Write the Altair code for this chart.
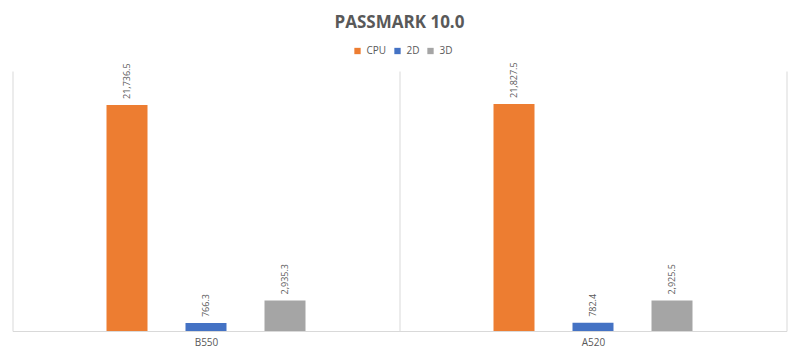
import altair as alt
import pandas as pd

categories = ["B550", "A520"]
series = ["CPU", "2D", "3D"]
cpu = [21736.5, 21827.5]
d2 = [766.3, 782.4]
d3 = [2935.3, 2925.5]
colors = ["#ED7D31", "#4472C4", "#A5A5A5"]

rows = []
for i, c in enumerate(categories):
    for s, vals in zip(series, [cpu, d2, d3]):
        rows.append({"board": c, "series": s, "value": vals[i], "label": f"{vals[i]:,.1f}"})
df = pd.DataFrame(rows)

# offset slots: empty gaps either side of the three series
slots = ["_a"] + series + ["_b"]

x = alt.X("board:N", sort=categories, title=None,
          scale=alt.Scale(paddingInner=0, paddingOuter=0),
          axis=alt.Axis(labelAngle=0, ticks=False, grid=True, tickBand="extent",
                        gridColor="#D9D9D9", gridWidth=1,
                        domainColor="#D9D9D9", labelColor="#595959",
                        labelFontSize=10, labelFont="Open Sans", labelPadding=6))
xo = alt.XOffset("series:N",
                 scale=alt.Scale(domain=slots, paddingInner=0.481, paddingOuter=0.19))
y = alt.Y("value:Q", scale=alt.Scale(domain=[0, 25000]), axis=None)

bars = alt.Chart(df).mark_bar().encode(
    x=x, xOffset=xo, y=y,
    color=alt.Color("series:N", sort=series,
                    scale=alt.Scale(domain=series, range=colors),
                    legend=alt.Legend(title=None, orient="none", direction="horizontal",
                                      legendX=340, legendY=-25, symbolType="square",
                                      symbolSize=40, labelFontSize=10,
                                      labelColor="#595959", labelFont="Open Sans",
                                      columnPadding=6, symbolStrokeWidth=0)),
)

labels = alt.Chart(df).mark_text(angle=270, align="left", baseline="middle", dx=6,
                                 fontSize=9, color="#595959", font="Open Sans").encode(
    x=x, xOffset=xo, y=y, text="label:N"
)

chart = alt.layer(bars, labels).properties(
    width=774, height=260,
    autosize=alt.AutoSizeParams(type="none"),
    padding={"left": 4.5, "top": 63, "right": 5.5, "bottom": 26},
    title=alt.TitleParams("PASSMARK 10.0", anchor="middle", fontSize=17, fontWeight="bold",
                          color="#595959", font="Open Sans", offset=14),
).configure_view(stroke=None)

chart.save("out.html", embed_options={"renderer": "svg", "actions": False})
